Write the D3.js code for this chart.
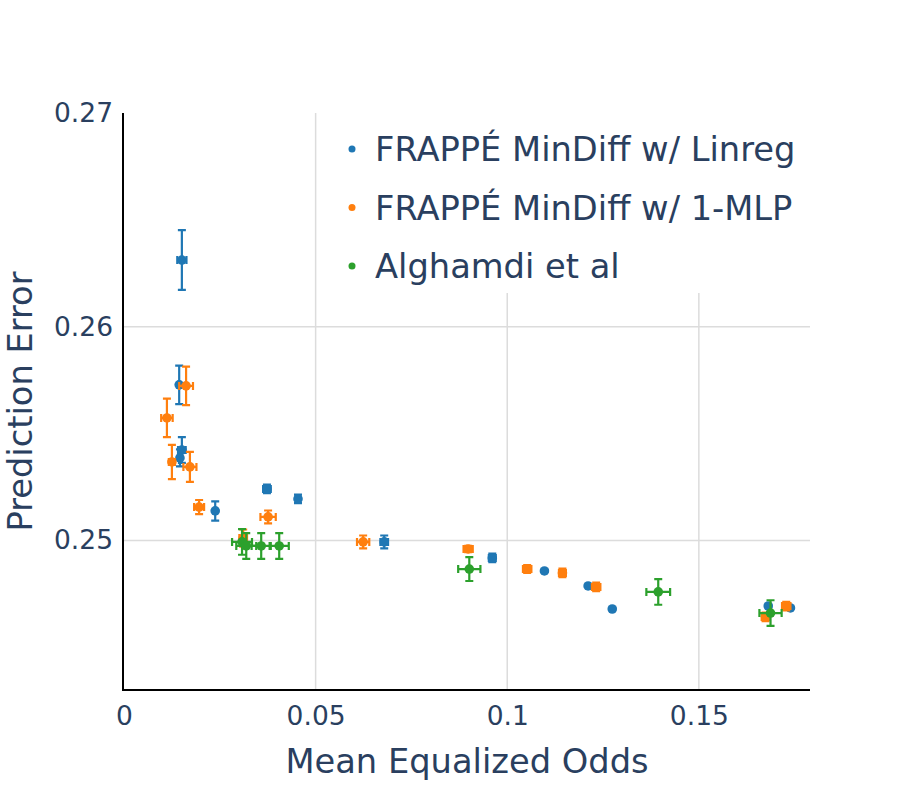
<!DOCTYPE html>
<html>
<head>
<meta charset="utf-8">
<script src="https://cdn.jsdelivr.net/npm/d3@7"></script>
<style>
  body { margin: 0; background: #fff; }
  text { font-family: "DejaVu Sans", sans-serif; fill: #2a3f5f; }
</style>
</head>
<body>
<div id="chart"></div>
<script>
// series names and colours
const seriesNames = ["FRAPPÉ MinDiff w/ Linreg", "FRAPPÉ MinDiff w/ 1-MLP", "Alghamdi et al"];
const seriesColors = ["#1f77b4", "#ff7f0e", "#2ca02c"];

// FRAPPÉ MinDiff w/ Linreg
const linregX    = [0.0151, 0.0144, 0.0151, 0.0146, 0.0238, 0.0373, 0.0454, 0.0679, 0.0961, 0.1097, 0.1211, 0.1274, 0.1681, 0.1739];
const linregY    = [0.26312, 0.25728, 0.25423, 0.25386, 0.25138, 0.25241, 0.25194, 0.24993, 0.24918, 0.24857, 0.24787, 0.24679, 0.24693, 0.24684];
const linregXErr = [0.0012, 0.0003, 0.001, 0.0005, 0.0003, 0.001, 0.0006, 0.001, 0.0009, 0.0003, 0.0003, 0.0003, 0.0003, 0.0003];
const linregYErr = [0.0014, 0.0009, 0.0006, 0.0004, 0.00045, 0.0002, 0.0002, 0.0003, 0.0002, 0.00005, 0.00005, 0.00005, 0.00005, 0.00005];

// FRAPPÉ MinDiff w/ 1-MLP
const mlpX    = [0.0162, 0.0112, 0.0125, 0.0172, 0.0196, 0.0376, 0.0311, 0.0624, 0.0898, 0.1052, 0.1144, 0.1232, 0.1674, 0.1728];
const mlpY    = [0.25723, 0.25573, 0.25367, 0.25344, 0.25156, 0.2511, 0.25011, 0.24993, 0.2496, 0.24866, 0.24848, 0.24782, 0.24642, 0.24693];
const mlpXErr = [0.0018, 0.0015, 0.0008, 0.0017, 0.0013, 0.002, 0.001, 0.0016, 0.0012, 0.0011, 0.0009, 0.0011, 0.001, 0.0011];
const mlpYErr = [0.0009, 0.0009, 0.0008, 0.0007, 0.00033, 0.0003, 0.0004, 0.0003, 0.00015, 0.00018, 0.0002, 0.0002, 0.0002, 0.0002];

// Alghamdi et al
const alghX    = [0.0308, 0.0319, 0.0358, 0.0405, 0.0901, 0.1394, 0.1687];
const alghY    = [0.24993, 0.24974, 0.24974, 0.24974, 0.24866, 0.24759, 0.2466];
const alghXErr = [0.0026, 0.0026, 0.0025, 0.0025, 0.0029, 0.0031, 0.0029];
const alghYErr = [0.0006, 0.0006, 0.0006, 0.0006, 0.00056, 0.0006, 0.0006];

// axis ticks
const xTicks = [0, 0.05, 0.1, 0.15];
const xTickLabels = ["0", "0.05", "0.1", "0.15"];
const yTicks = [0.25, 0.26, 0.27];
const yTickLabels = ["0.25", "0.26", "0.27"];

const width = 900, height = 787;
const plotLeft = 124, plotRight = 810, plotTop = 113, plotBottom = 690;

const x = d3.scaleLinear().domain([0, 0.179]).range([plotLeft, plotRight]);
const y = d3.scaleLinear().domain([0.243, 0.27]).range([plotBottom, plotTop]);

const svg = d3.select("#chart").append("svg")
    .attr("width", width)
    .attr("height", height);

// gridlines
svg.append("g").selectAll("line")
    .data(xTicks.filter(d => d > 0))
    .enter().append("line")
    .attr("x1", d => x(d)).attr("x2", d => x(d))
    .attr("y1", plotTop).attr("y2", plotBottom)
    .attr("stroke", "#dcdcdc").attr("stroke-width", 1.5);

svg.append("g").selectAll("line")
    .data(yTicks.filter(d => d < 0.27))
    .enter().append("line")
    .attr("x1", plotLeft).attr("x2", plotRight)
    .attr("y1", d => y(d)).attr("y2", d => y(d))
    .attr("stroke", "#dcdcdc").attr("stroke-width", 1.5);

// axes
const xAxis = svg.append("g")
    .attr("transform", "translate(0," + plotBottom + ")")
    .call(d3.axisBottom(x).tickValues(xTicks).tickFormat((d, i) => xTickLabels[i]).tickSize(0).tickPadding(16));
const yAxis = svg.append("g")
    .attr("transform", "translate(" + (plotLeft - 1) + ",0)")
    .call(d3.axisLeft(y).tickValues(yTicks).tickFormat((d, i) => yTickLabels[i]).tickSize(0).tickPadding(10));

[xAxis, yAxis].forEach(a => {
    a.select(".domain").attr("stroke", "#000").attr("stroke-width", 2);
    a.selectAll("text").style("font-size", "26.5px").attr("fill", "#2a3f5f");
});
xAxis.select(".domain").attr("d", "M" + (plotLeft - 2) + ",0H" + plotRight);
yAxis.select(".domain").attr("d", "M0," + plotTop + "V" + (plotBottom + 1));

// axis titles
svg.append("text")
    .attr("x", (plotLeft + plotRight) / 2).attr("y", 773)
    .attr("text-anchor", "middle")
    .style("font-size", "33.7px")
    .text("Mean Equalized Odds");
svg.append("text")
    .attr("transform", "translate(32," + ((plotTop + plotBottom) / 2) + ") rotate(-90)")
    .attr("text-anchor", "middle")
    .style("font-size", "33.7px")
    .text("Prediction Error");

// legend background covers the grid like plotly does
svg.append("rect")
    .attr("x", 333).attr("y", 100)
    .attr("width", 480).attr("height", 193)
    .attr("fill", "#fff");

// draw one series: error bars, then markers
function drawSeries(xs, ys, xe, ye, color) {
    const g = svg.append("g");
    const pts = xs.map((d, i) => ({ x: d, y: ys[i], xe: xe[i], ye: ye[i] }));
    const cap = 4;
    const bars = g.selectAll("g").data(pts).enter().append("g")
        .attr("stroke", color).attr("stroke-width", 2.2).attr("fill", "none");
    // vertical error
    bars.append("path")
        .attr("d", d => {
            const cx = x(d.x), y1 = y(d.y + d.ye), y2 = y(d.y - d.ye);
            return "M" + cx + "," + y1 + "V" + y2 +
                "M" + (cx - cap) + "," + y1 + "H" + (cx + cap) +
                "M" + (cx - cap) + "," + y2 + "H" + (cx + cap);
        });
    // horizontal error
    bars.append("path")
        .attr("d", d => {
            const cy = y(d.y), x1 = x(d.x - d.xe), x2 = x(d.x + d.xe);
            return "M" + x1 + "," + cy + "H" + x2 +
                "M" + x1 + "," + (cy - cap) + "V" + (cy + cap) +
                "M" + x2 + "," + (cy - cap) + "V" + (cy + cap);
        });
    g.selectAll("circle").data(pts).enter().append("circle")
        .attr("cx", d => x(d.x)).attr("cy", d => y(d.y))
        .attr("r", 4.8)
        .attr("fill", color);
}

drawSeries(linregX, linregY, linregXErr, linregYErr, seriesColors[0]);
drawSeries(mlpX, mlpY, mlpXErr, mlpYErr, seriesColors[1]);
drawSeries(alghX, alghY, alghXErr, alghYErr, seriesColors[2]);

// legend
const legend = svg.append("g");
const items = legend.selectAll("g").data(seriesNames).enter().append("g")
    .attr("transform", (d, i) => "translate(352," + (149 + i * 58.5) + ")");
items.append("circle").attr("r", 3.5).attr("fill", (d, i) => seriesColors[i]);
items.append("text")
    .attr("x", 23).attr("dy", "0.36em")
    .style("font-size", "33.7px")
    .text(d => d);
</script>
</body>
</html>
